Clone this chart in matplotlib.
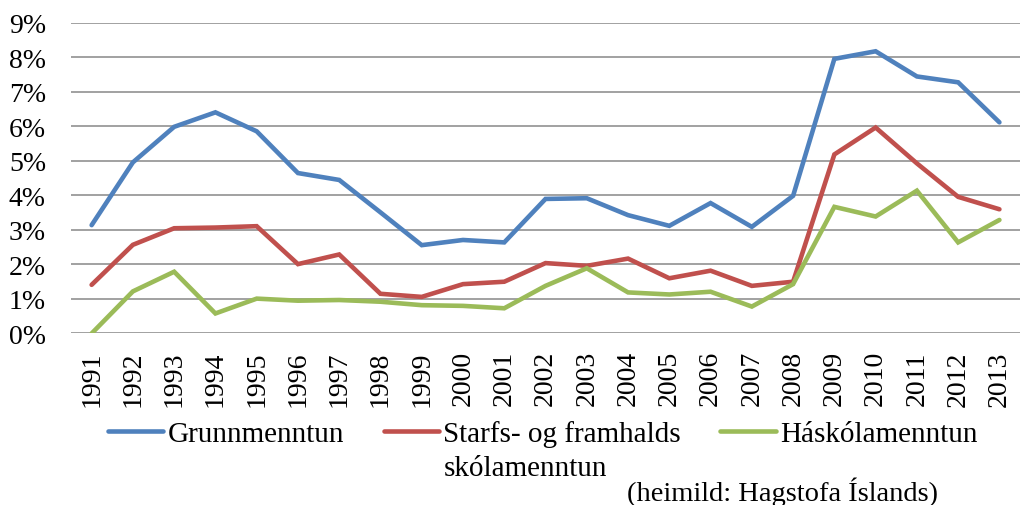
import matplotlib
matplotlib.use("Agg")
import matplotlib.pyplot as plt
from matplotlib.ticker import PercentFormatter

plt.rcParams["font.family"] = ["Liberation Serif", "DejaVu Serif"]

# atvinnuleysi eftir menntun, 1991-2013
years = [str(y) for y in range(1991, 2014)]
grunn = [3.14, 4.96, 5.99, 6.41, 5.86, 4.65, 4.45, 3.51, 2.56, 2.71, 2.64,
         3.90, 3.92, 3.43, 3.12, 3.78, 3.09, 3.99, 7.96, 8.18, 7.45, 7.28, 6.12]
starfs = [1.41, 2.57, 3.05, 3.07, 3.11, 2.01, 2.29, 1.15, 1.06, 1.43, 1.50,
          2.04, 1.96, 2.17, 1.60, 1.82, 1.38, 1.50, 5.19, 5.97, 4.93, 3.96, 3.60]
haskola = [0.00, 1.22, 1.79, 0.58, 1.01, 0.95, 0.97, 0.92, 0.82, 0.80, 0.73,
           1.38, 1.89, 1.19, 1.13, 1.21, 0.78, 1.43, 3.67, 3.39, 4.14, 2.64, 3.29]
labels = ["Grunnmenntun", "Starfs- og framhalds", "Háskólamenntun"]
label2 = "skólamenntun"  # seinni lína í miðju skýringunni
colors = ["#4F81BD", "#C0504D", "#9BBB59"]

fig = plt.figure(figsize=(10.26, 5.06), dpi=100)
ax = fig.add_axes([0.0692, 0.339, 0.925, 0.6136])

x = range(len(years))
for vals, lab, col in zip([grunn, starfs, haskola], labels, colors):
    ax.plot(x, vals, color=col, lw=3.3, label=lab, solid_capstyle="round",
            solid_joinstyle="miter", zorder=3)

ax.set_xlim(-0.5, len(years) - 0.5)
ax.set_ylim(0, 9)
ax.set_yticks(range(0, 10))
ax.yaxis.set_major_formatter(PercentFormatter(decimals=0))
ax.set_xticks(list(x))
ax.set_xticklabels(years, rotation=90, va="top", ha="center")
ax.grid(axis="y", color="#888888", lw=1.1)
ax.set_axisbelow(True)
for s in ax.spines.values():
    s.set_visible(False)
ax.tick_params(axis="both", length=0, labelsize=20)
ax.tick_params(axis="x", pad=12)
ax.tick_params(axis="y", pad=18)

leg = fig.legend(loc="upper left", bbox_to_anchor=(0.1053, 0.168), ncol=3,
                 frameon=False, fontsize=21, handlelength=1.9, handletextpad=0.15,
                 columnspacing=1.35, borderpad=0, borderaxespad=0)

# second line of the middle label, placed under the first line
fig.canvas.draw()
bb = leg.get_texts()[1].get_window_extent()
x0, y0 = fig.transFigure.inverted().transform((bb.x0, bb.y0))
fig.text(x0, y0 - 0.015, label2, fontsize=21, va="top", ha="left")

fig.text(0.611, 0.028, "(heimild: Hagstofa Íslands)", fontsize=20.5, va="center")

fig.savefig("out.png", dpi=100)
